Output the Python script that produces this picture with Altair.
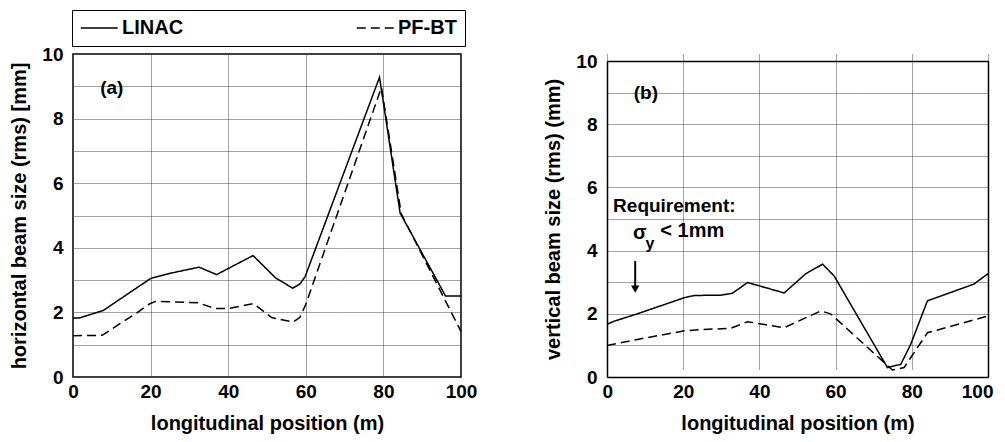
import altair as alt
import pandas as pd

# ---- data ----
series_names = ["LINAC", "PF-BT"]

linac_a_x = [0, 1.7, 7.8, 20.0, 25.0, 32.5, 37.0, 46.4, 52.2, 56.6, 58.5, 59.8, 79.0, 84.3, 96.0, 100]
linac_a_y = [1.83, 1.83, 2.06, 3.05, 3.21, 3.40, 3.17, 3.76, 3.07, 2.75, 2.88, 3.10, 9.28, 5.08, 2.51, 2.51]

pfbt_a_x = [0, 7.5, 12.1, 16.4, 19.8, 21.3, 32.2, 36.6, 40.0, 46.5, 51.2, 56.7, 58.5, 60.0, 79.5, 84.6, 100]
pfbt_a_y = [1.28, 1.29, 1.65, 1.98, 2.27, 2.34, 2.30, 2.12, 2.12, 2.27, 1.84, 1.70, 1.85, 2.25, 8.97, 5.05, 1.41]

linac_b_x = [0, 2.0, 8.0, 20.3, 22.9, 29.9, 32.9, 36.9, 46.5, 52.2, 56.6, 59.6, 73.6, 77.1, 79.7, 84.1, 96.3, 100]
linac_b_y = [1.67, 1.77, 2.00, 2.51, 2.58, 2.59, 2.65, 2.99, 2.66, 3.27, 3.57, 3.20, 0.30, 0.40, 1.03, 2.41, 2.94, 3.27]

pfbt_b_x = [0, 8.0, 20.3, 24.7, 32.5, 36.9, 46.5, 56.1, 58.7, 74.9, 78.0, 79.7, 84.1, 100]
pfbt_b_y = [1.00, 1.19, 1.46, 1.50, 1.54, 1.75, 1.56, 2.09, 2.00, 0.22, 0.30, 0.61, 1.40, 1.93]

x_ticks = [0, 20, 40, 60, 80, 100]
y_ticks = [0, 1, 2, 3, 4, 5, 6, 7, 8, 9, 10]

x_title = "longitudinal position (m)"
ya_title = "horizontal beam size (rms) [mm]"
yb_title = "vertical beam size (rms) (mm)"

# annotations (text, x, y)
panel_a_label = ("(a)", 10.0, 8.95)
panel_b_label = ("(b)", 10.2, 9.0)
req_text = ("Requirement:", 1.6, 5.42)
sigma_text = ("σ", 6.8, 4.55)
sub_text = ("y", 10.1, 4.2)
lt_text = ("< 1mm", 14.0, 4.62)
arrow_x = 7.4
arrow_top = 3.67
arrow_tip = 2.78

FONT = "Liberation Sans"
H = 323          # panel height (px)
B_TOP = 7        # panel (b) frame starts this many px lower than panel (a)
GRID = dict(gridColor="#444", gridDash=[1, 1], gridWidth=1, gridOpacity=1)
AX = dict(domainColor="black", domainWidth=1.5)


def frame(xs1, ys1, xs2, ys2):
    return pd.concat([
        pd.DataFrame({"x": xs1, "y": ys1, "series": series_names[0], "order": range(len(xs1))}),
        pd.DataFrame({"x": xs2, "y": ys2, "series": series_names[1], "order": range(len(xs2))}),
    ])


df_a = frame(linac_a_x, linac_a_y, pfbt_a_x, pfbt_a_y)
df_b = frame(linac_b_x, linac_b_y, pfbt_b_x, pfbt_b_y)

xscale = alt.Scale(domain=[0, 100], nice=False)
yscale_a = alt.Scale(domain=[0, 10], nice=False)
yscale_b = alt.Scale(domain=[0, 10], nice=False, range=[H, B_TOP])

x_axis_a = alt.Axis(values=x_ticks, title=x_title, labelFlush=False, labelPadding=5,
                    titlePadding=12, grid=True, **GRID)
x_axis_b = alt.Axis(values=x_ticks, title=x_title, labelFlush=True, labelFlushOffset=5, labelPadding=5,
                    titlePadding=12, grid=True, domain=True, **AX, **GRID)


def y_axis(title, domain=False):
    kw = dict(domain=True, **AX) if domain else {}
    return alt.Axis(values=y_ticks, title=title,
                    labelExpr="datum.value % 2 == 0 ? datum.label : ''",
                    labelOverlap=False, labelPadding=10, titlePadding=12, grid=False, **kw)


y_axis_a = y_axis(ya_title)
y_axis_b = y_axis(yb_title, domain=True)

dash_scale = alt.Scale(domain=series_names, range=[[1, 0], [9, 5]])


def lines(df, xa, ya, ys, legend):
    return alt.Chart(df).mark_line(color="black", strokeWidth=1.5).encode(
        x=alt.X("x:Q", scale=xscale, axis=xa),
        y=alt.Y("y:Q", scale=ys, axis=ya),
        strokeDash=alt.StrokeDash("series:N", scale=dash_scale, legend=legend, sort=series_names),
        order="order:Q",
    )


def label(txt, xa, ya, ys, size=19, align="center", baseline="middle"):
    d = pd.DataFrame({"t": [txt[0]], "x": [txt[1]], "y": [txt[2]]})
    return alt.Chart(d).mark_text(font=FONT, fontWeight="bold", fontSize=size, align=align,
                                  baseline=baseline, color="black").encode(
        x=alt.X("x:Q", scale=xscale, axis=xa), y=alt.Y("y:Q", scale=ys, axis=ya), text="t:N")


def frame_layer(df, ys, offset_top, with_domain):
    """Invisible layer carrying the horizontal grid (every 1 mm) and, for panel (b), the top/right frame."""
    dom = dict(domain=True, **AX) if with_domain else dict(domain=False)
    return alt.Chart(df).mark_line(opacity=0).encode(
        x=alt.X("x:Q", scale=xscale, axis=alt.Axis(orient="top", offset=-offset_top, labels=False,
                                                    ticks=False, grid=False, title=None, **dom)),
        y=alt.Y("y:Q", scale=ys, axis=alt.Axis(orient="right", labels=False, ticks=False,
                                               values=y_ticks, grid=True, title=None, **dom, **GRID)),
        detail="series:N",
    )


legend_a = alt.Legend(
    title=None, orient="none", legendX=-1, legendY=-44, direction="horizontal",
    strokeColor="black", padding=8, columnPadding=169, symbolType="M-1,0H3",
    symbolSize=342, symbolStrokeWidth=1.4, symbolStrokeColor="black", symbolFillColor="transparent",
    labelFont=FONT, labelFontSize=20, labelFontWeight="bold", labelColor="black",
    labelOffset=22, fillColor="white",
)

main_a = alt.layer(
    lines(df_a, x_axis_a, y_axis_a, yscale_a, legend_a),
    label(panel_a_label, x_axis_a, y_axis_a, yscale_a),
)
left = alt.layer(main_a, frame_layer(df_a, yscale_a, 0, False)).resolve_axis(
    x="independent", y="independent").properties(width=388, height=H)

arrow_df = pd.DataFrame({"x": [arrow_x], "y": [arrow_top], "y2": [arrow_tip]})
arrow_shaft = alt.Chart(arrow_df).mark_rule(color="black", strokeWidth=2).encode(
    x=alt.X("x:Q", scale=xscale, axis=x_axis_b), y=alt.Y("y:Q", scale=yscale_b, axis=y_axis_b), y2="y2:Q")
arrow_head = alt.Chart(arrow_df).mark_point(shape="triangle-down", filled=True, color="black",
                                            size=70, opacity=1).encode(
    x=alt.X("x:Q", scale=xscale, axis=x_axis_b), y=alt.Y("y2:Q", scale=yscale_b, axis=y_axis_b))

main_b = alt.layer(
    lines(df_b, x_axis_b, y_axis_b, yscale_b, None),
    label(panel_b_label, x_axis_b, y_axis_b, yscale_b),
    label(req_text, x_axis_b, y_axis_b, yscale_b, size=19, align="left"),
    label(sigma_text, x_axis_b, y_axis_b, yscale_b, size=20, align="left"),
    label(sub_text, x_axis_b, y_axis_b, yscale_b, size=16, align="left"),
    label(lt_text, x_axis_b, y_axis_b, yscale_b, size=20, align="left"),
    arrow_shaft,
    arrow_head,
)

right = alt.layer(main_b, frame_layer(df_b, yscale_b, B_TOP, True)).resolve_axis(
    x="independent", y="independent").properties(
    width=381, height=H, view=alt.ViewBackground(stroke="transparent"))

chart = alt.hconcat(left, right, spacing=65).resolve_scale(strokeDash="independent").properties(
    padding={"left": 1, "top": 0, "right": 0, "bottom": 0}
).configure_view(
    stroke="black", strokeWidth=1.5
).configure_axis(
    labelFont=FONT, labelFontSize=19, labelFontWeight="bold", labelColor="black",
    titleFont=FONT, titleFontSize=20, titleFontWeight="bold", titleColor="black",
    domain=False, ticks=False,
)

chart.save("out.html", embed_options={"renderer": "svg", "actions": False})
